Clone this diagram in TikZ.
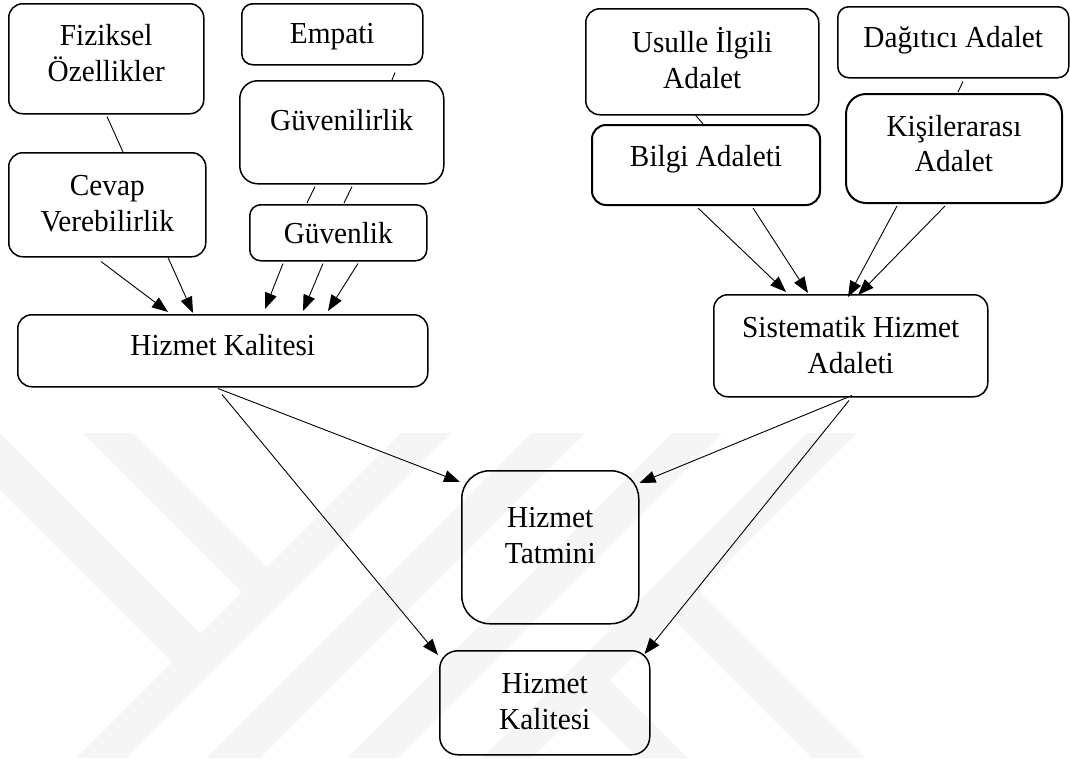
\documentclass[tikz,border=0pt]{standalone}
\usepackage{fontspec}
\setmainfont[FakeStretch=0.96]{Liberation Serif}
\usetikzlibrary{arrows.meta,calc}

% box contents: width, height, first baseline below top, text
\newcommand\boxtext[4]{\parbox[c][#2][t]{#1}{\centering\rule{0pt}{#3}#4\par}}

\tikzset{
  box/.style={draw, line width=1.5pt, rounded corners=14pt, inner sep=0pt,
    anchor=north west, font=\fontsize{30.5}{35.5}\selectfont},
  link/.style={line width=0.9pt},
  arr/.style={line width=0.9pt, -{Triangle[length=16pt,width=12pt]}},
  wm/.style={fill=gray!8, draw=none},
}

\begin{document}
\begin{tikzpicture}[x=1pt, y=-1pt]
\useasboundingbox (0,0) rectangle (1070,758);
\fill[white] (0,0) rectangle (1070,758);

% faint background emblem
\fill[wm] (0,433) -- (200.8,633.8) -- (172.3,662.3) -- (0,490) -- cycle;
\fill[wm] (83,433) -- (133,433) -- (267.3,567.3) -- (242.3,592.3) -- cycle;
\fill[wm] (401.7,433) -- (451.7,433) -- (126.7,758) -- (76.7,758) -- cycle;
\fill[wm] (531.7,433) -- (585,433) -- (260,758) -- (206.7,758) -- cycle;
\fill[wm] (672,433) -- (722,433) -- (397,758) -- (347,758) -- cycle;
\fill[wm] (807,433) -- (857,433) -- (532,758) -- (482,758) -- cycle;
\fill[wm] (672,618) -- (698.5,591.5) -- (865,758) -- (812,758) -- cycle;
\fill[wm] (585,705) -- (610,680) -- (688,758) -- (638,758) -- cycle;

% left group
\node[box] (fiz) at (8,3) {\boxtext{195pt}{110pt}{42pt}{Fiziksel\\Özellikler}};
\node[box, rounded corners=11pt] (emp) at (241,3) {\boxtext{181pt}{61pt}{40pt}{Empati}};
\node[box, rounded corners=18pt] (guv) at (239,80) {\boxtext{204pt}{103pt}{50pt}{Güvenilirlik}};
\node[box] (cev) at (8,152) {\boxtext{197pt}{104pt}{43pt}{Cevap\\Verebilirlik}};
\node[box, rounded corners=11pt] (gvl) at (249,204) {\boxtext{177pt}{56pt}{39pt}{Güvenlik}};
\node[box] (hk) at (17,314) {\boxtext{410pt}{72pt}{41pt}{Hizmet Kalitesi}};

% right group
\node[box] (usu) at (585,8) {\boxtext{233pt}{106pt}{44pt}{Usulle İlgili\\Adalet}};
\node[box, rounded corners=11pt] (dag) at (837,6) {\boxtext{231pt}{71pt}{41pt}{Dağıtıcı Adalet}};
\node[box, line width=2pt] (bil) at (591,124) {\boxtext{228pt}{80pt}{41pt}{Bilgi Adaleti}};
\node[box, line width=2pt, rounded corners=20pt] (kis) at (845,93) {\boxtext{216pt}{109pt}{42pt}{Kişilerarası\\Adalet}};
\node[box] (sis) at (713,294) {\boxtext{274pt}{102pt}{43pt}{Sistematik Hizmet\\Adaleti}};

% outcomes
\node[box, rounded corners=28pt] (tat) at (461,470) {\boxtext{177pt}{153pt}{57pt}{Hizmet\\Tatmini}};
\node[box, rounded corners=18pt] (kal) at (439,650) {\boxtext{210pt}{104pt}{43pt}{Hizmet\\Kalitesi}};

% plain links
\draw[link] ($(fiz.south west)+(99,2)$) -- ($(cev.north west)+(115,0)$);
\draw[link] ($(emp.south west)+(154,7)$) -- ($(guv.north west)+(153,0)$);
\draw[link] ($(guv.south west)+(76,2)$) -- ($(gvl.north west)+(58,-1)$);
\draw[link] ($(guv.south west)+(113,2)$) -- ($(gvl.north west)+(95,-1)$);
\draw[link] ($(usu.south west)+(110,-1)$) -- ($(bil.north west)+(112,0)$);
\draw[link] ($(dag.south west)+(126,3)$) -- ($(kis.north west)+(113,-1)$);

% arrows into Hizmet Kalitesi
\draw[arr] ($(cev.south west)+(93,4)$) -- ($(hk.north west)+(151,-2)$);
\draw[arr] ($(cev.south west)+(160,0)$) -- ($(hk.north west)+(176,-1)$);
\draw[arr] ($(gvl.south west)+(34,2)$) -- ($(hk.north west)+(248,-5)$);
\draw[arr] ($(gvl.south west)+(74,2)$) -- ($(hk.north west)+(286,-3)$);
\draw[arr] ($(gvl.south west)+(109,2)$) -- ($(hk.north west)+(311,-3)$);

% arrows into Sistematik Hizmet Adaleti
\draw[arr] ($(bil.south west)+(107,2)$) -- ($(sis.north west)+(73,-2)$);
\draw[arr] ($(bil.south west)+(162,2)$) -- ($(sis.north west)+(95,-1)$);
\draw[arr] ($(kis.south west)+(52,2)$) -- ($(sis.north west)+(135,3)$);
\draw[arr] ($(kis.south west)+(100,2)$) -- ($(sis.north west)+(145,1)$);

% arrows into the outcomes
\draw[arr] ($(hk.south west)+(201,1)$) -- ($(tat.north west)+(-1,12)$);
\draw[arr] ($(hk.south west)+(205,7)$) -- ($(kal.north west)+(-1,5)$);
\draw[arr] ($(sis.south west)+(139,-2)$) -- ($(tat.north east)+(0,13)$);
\draw[arr] ($(sis.south west)+(136,3)$) -- ($(kal.north east)+(-6,4)$);
\end{tikzpicture}
\end{document}
